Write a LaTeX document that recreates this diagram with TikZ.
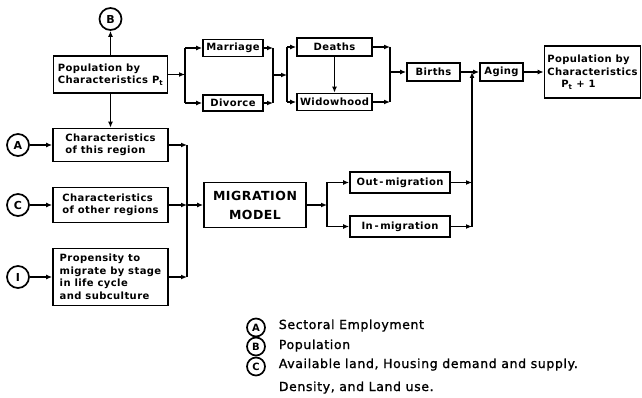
\documentclass[tikz,border=0pt]{standalone}
\usepackage{fontspec}
\usepackage{tikz}
\usetikzlibrary{arrows.meta}
\newfontfamily\letfont{DejaVu Sans}[LetterSpace=4]
\newfontfamily\keyfont{DejaVu Sans}[LetterSpace=5,FakeBold=1.2]

\begin{document}
\begin{tikzpicture}[x=1pt,y=-1pt,line width=1.7pt,
  stagebox/.style={draw,align=left,inner sep=2pt,font=\letfont\bfseries\fontsize{10}{12.5}\selectfont},
  refcirc/.style={draw,circle,minimum size=22pt,inner sep=0pt,font=\letfont\bfseries\fontsize{11}{12}\selectfont},
  keycirc/.style={draw,circle,minimum size=18pt,inner sep=0pt,font=\letfont\bfseries\fontsize{10}{11}\selectfont},
  keytext/.style={anchor=base west,inner sep=0pt,font=\keyfont\fontsize{12.5}{15}\selectfont},
  arr/.style={-{Latex[length=6pt,width=5pt]}}]
\useasboundingbox (0,0) rectangle (642,398);
% population at time t and the family events
\node[refcirc] (popB) at (110.5,19) {B};
\node[stagebox,minimum width=114pt,minimum height=37pt] (popt) at (110.5,74.5) {Population by\\Characteristics P\textsubscript{t}};
\node[stagebox,minimum width=60pt,minimum height=17pt] (marr) at (233,48) {Marriage};
\node[stagebox,minimum width=60pt,minimum height=16pt] (div) at (233,103) {Divorce};
\node[stagebox,minimum width=75pt,minimum height=18pt] (death) at (334.5,47) {Deaths};
\node[stagebox,minimum width=75pt,minimum height=17pt] (widow) at (334.5,102) {Widowhood};
\node[stagebox,minimum width=53pt,minimum height=18pt] (birth) at (433.5,72) {Births};
\node[stagebox,minimum width=43pt,minimum height=18pt] (aging) at (501.5,72) {Aging};
\node[stagebox,minimum width=96pt,minimum height=52pt] (popnext) at (592.5,72) {Population by\\Characteristics\\\hspace{14pt}P\textsubscript{t} + 1};
% inputs of the migration model
\node[stagebox,minimum width=115pt,minimum height=33pt] (here) at (110.5,145) {Characteristics\\of this region};
\node[stagebox,minimum width=115pt,minimum height=35pt] (other) at (110.5,205) {Characteristics\\of other regions};
\node[stagebox,minimum width=115pt,minimum height=57pt] (prop) at (110.5,277) {Propensity to\\migrate by stage\\in life cycle\\and subculture};
\node[refcirc] (empA) at (18,145) {A};
\node[refcirc] (envC) at (18,205) {C};
\node[refcirc] (indI) at (18,277) {I};
\node[stagebox,align=center,minimum width=102pt,minimum height=45pt,font=\letfont\bfseries\fontsize{12.5}{19}\selectfont] (migmod) at (255,205) {MIGRATION\\MODEL};
\node[stagebox,minimum width=100pt,minimum height=21pt] (outm) at (400,182.5) {Out\,-\,migration};
\node[stagebox,minimum width=100pt,minimum height=21pt] (inm) at (400,226.5) {In\,-\,migration};
% junctions
\coordinate (jPop) at (185,75);
\coordinate (jMar) at (273,75);
\coordinate (jDth) at (287,75);
\coordinate (jBir) at (390,75);
\coordinate (jReg) at (187,205);
\coordinate (jMig) at (327,205);
\coordinate (jOut) at (472,72);
% connectors
\draw[arr] (popt) -- (popB);
\draw[arr] (popt) -- (here);
\draw[arr] (popt) -- (popt -| jPop);
\draw (jPop |- marr) -- (jPop |- div);
\draw[arr] (jPop |- marr) -- (marr);
\draw[arr] (jPop |- div) -- (div);
\draw[arr] (marr) -- (marr -| jMar);
\draw[arr] (div) -- (div -| jMar);
\draw (jMar |- marr) -- (jMar |- div);
\draw[arr] (jMar) -- (jDth);
\draw (jDth |- death) -- (jDth |- widow);
\draw[arr] (jDth |- death) -- (death);
\draw[arr] (jDth |- widow) -- (widow);
\draw[arr] (death) -- (widow);
\draw[arr] (death) -- (death -| jBir);
\draw[arr] (widow) -- (widow -| jBir);
\draw (jBir |- death) -- (jBir |- widow);
\draw[arr] (jBir |- birth) -- (birth);
\draw[arr] (birth) -- (aging);
\draw[arr] (aging) -- (popnext);
\draw[arr] (empA) -- (here);
\draw[arr] (envC) -- (other);
\draw[arr] (indI) -- (prop);
\draw[arr] (here) -- (here -| jReg);
\draw[arr] (other) -- (other -| jReg);
\draw[arr] (prop) -- (prop -| jReg);
\draw (jReg |- here) -- (jReg |- prop);
\draw[arr] (jReg) -- (migmod);
\draw[arr] (migmod) -- (jMig);
\draw (jMig |- outm) -- (jMig |- inm);
\draw[arr] (jMig |- outm) -- (outm);
\draw[arr] (jMig |- inm) -- (inm);
\draw[arr] (outm) -- (outm -| jOut);
\draw[arr] (inm) -- (inm -| jOut);
\draw[arr] (jOut |- inm) -- (jOut);
% key
\node[keycirc] (keyA) at (256,327.5) {A};
\node[keycirc] (keyB) at (256,346.5) {B};
\node[keycirc] (keyC) at (256,366.5) {C};
\node[keytext] (txtA) at (278,329) {Sectoral Employment};
\node[keytext] (txtB) at (278,349) {Population};
\node[keytext] (txtC) at (278,368) {Available land, Housing demand and supply.};
\node[keytext] (txtC2) at (278,391) {Density, and Land use.};
\end{tikzpicture}
\end{document}
